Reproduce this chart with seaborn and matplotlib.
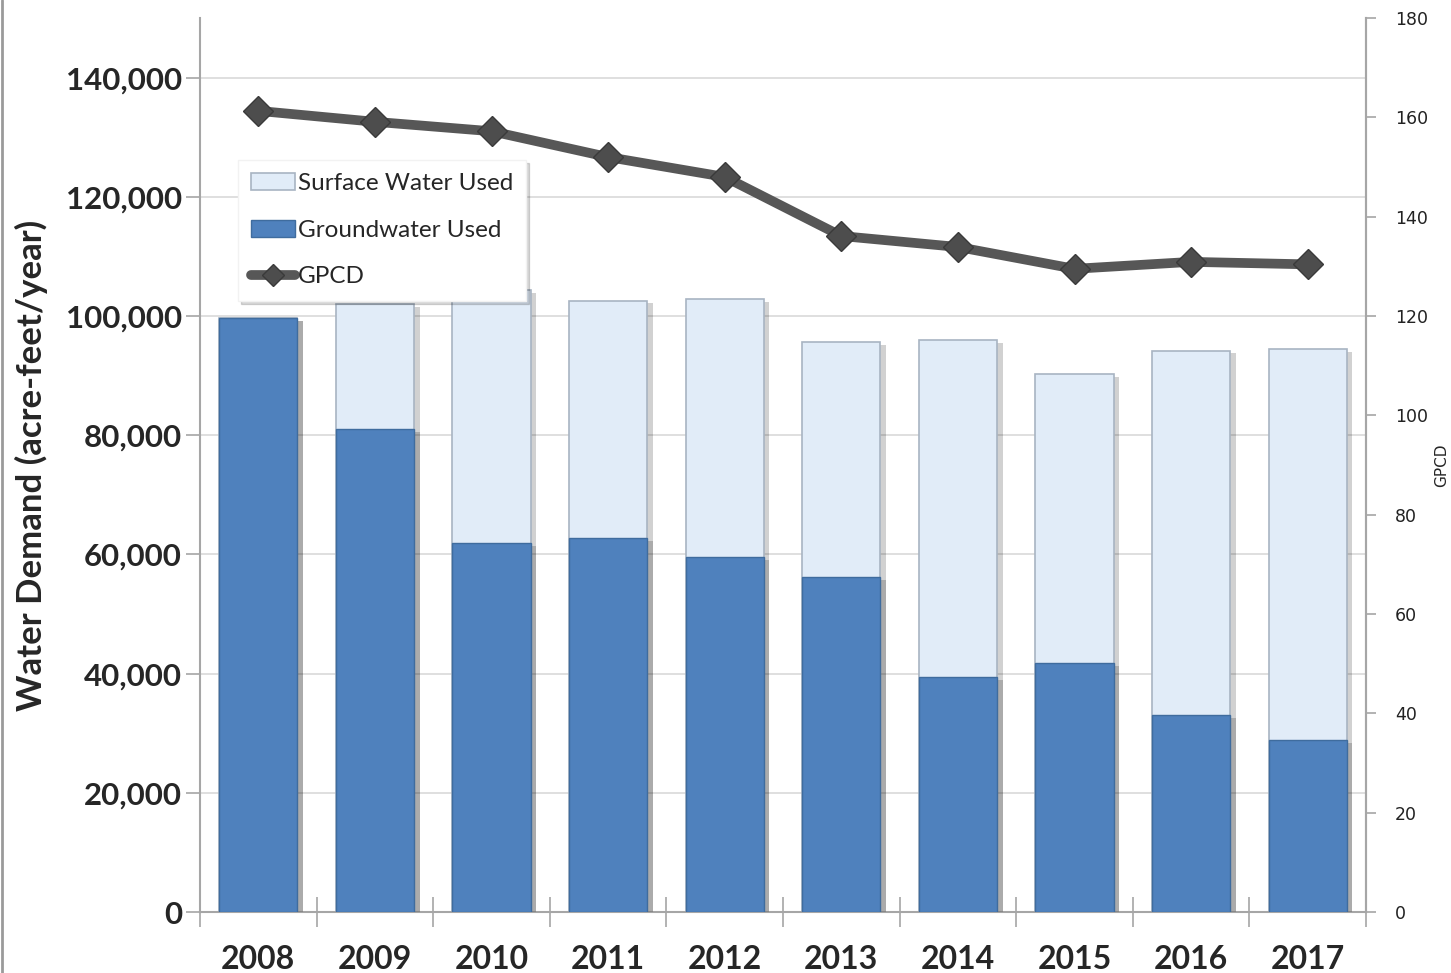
import numpy as np
import pandas as pd
import matplotlib
matplotlib.use("Agg")
import matplotlib.pyplot as plt
import seaborn as sns
from matplotlib.patches import Patch
from matplotlib.lines import Line2D
from matplotlib import patheffects as pe
from matplotlib.ticker import FuncFormatter, MultipleLocator, FixedLocator

years = ["2008", "2009", "2010", "2011", "2012", "2013", "2014", "2015", "2016", "2017"]
groundwater = [99600, 81000, 61900, 62700, 59600, 56200, 39400, 41800, 33100, 28900]
surface = [0, 21000, 42400, 39900, 43200, 39400, 56500, 48400, 61100, 65600]
gpcd = [161.3, 159.1, 157.2, 152.0, 148.0, 136.1, 133.9, 129.5, 130.9, 130.4]

total = [g + s for g, s in zip(groundwater, surface)]
df = pd.DataFrame({"year": years, "ground": groundwater, "total": total, "gpcd": gpcd})

sns.set_style("white")
plt.rcParams["font.family"] = ["Lato", "DejaVu Sans"]

c_ground = "#4F81BD"
c_surface = "#E1ECF8"
c_line = "#575757"

fig = plt.figure(figsize=(14.51, 9.73), dpi=100)
ax = fig.add_axes([200 / 1451, 1 - 912 / 973, (1366 - 200) / 1451, (912 - 18) / 973])

shadow = [pe.SimplePatchShadow(offset=(4, -2), shadow_rgbFace="#000000", alpha=0.18), pe.Normal()]

sns.barplot(data=df, x="year", y="total", color=c_surface, saturation=1, width=0.67,
            edgecolor="#A8B4C2", linewidth=1.2, ax=ax, zorder=2)
sns.barplot(data=df, x="year", y="ground", color=c_ground, saturation=1, width=0.67,
            edgecolor="#3F6C9E", linewidth=1.0, ax=ax, zorder=3)
for p in ax.patches:
    p.set_path_effects(shadow)

ax.set_xlim(-0.5, len(years) - 0.5)
ax.set_ylim(0, 150000)
ax.yaxis.set_major_locator(FixedLocator(np.arange(0, 140001, 20000)))
ax.yaxis.set_major_formatter(FuncFormatter(lambda v, p: f"{int(v):,}"))
ax.grid(axis="y", color="#D9D9D9", linewidth=1.2, zorder=0)
ax.set_axisbelow(True)
ax.set_xlabel("")
ax.set_ylabel("Water Demand (acre-feet/year)", fontsize=25, fontweight="bold", labelpad=13)

ax.spines["top"].set_visible(False)
for side in ["left", "bottom", "right"]:
    ax.spines[side].set_color("#A6A6A6")
    ax.spines[side].set_linewidth(1.5)

ax.tick_params(axis="y", which="major", length=10, width=1.2, color="#A6A6A6", direction="out",
               labelsize=22.5, pad=3, left=True)
for t in ax.get_yticklabels():
    t.set_fontweight("bold")
ax.set_xticks(range(len(years)))
ax.set_xticklabels(years, fontsize=23, fontweight="bold")
ax.tick_params(axis="x", which="major", length=0, pad=24)
ax.set_xticks(np.arange(-0.5, len(years), 1.0), minor=True)
ax.tick_params(axis="x", which="minor", length=21, width=1.2, color="#A6A6A6", direction="inout", bottom=True)

ax2 = ax.twinx()
pos = np.arange(len(years))
sns.lineplot(x=pos, y=df["gpcd"].values, ax=ax2, color=c_line, linewidth=7, marker="D",
             markersize=15, markerfacecolor="#4D4D4D", markeredgecolor="#3A3A3A",
             markeredgewidth=1.0, zorder=5)
ax2.set_ylim(0, 180)
ax2.yaxis.set_major_locator(MultipleLocator(20))
ax2.set_ylabel("GPCD", fontsize=11, labelpad=4, family=["DejaVu Sans"])
ax2.tick_params(axis="y", length=7, width=1.2, color="#A6A6A6", direction="out", labelsize=12.5,
                pad=14, right=True)
for t in ax2.get_yticklabels():
    t.set_family(["DejaVu Sans"])
    t.set_color("#222222")
for side in ["top", "left", "bottom"]:
    ax2.spines[side].set_visible(False)
ax2.spines["right"].set_color("#A6A6A6")
ax2.spines["right"].set_linewidth(1.5)
ax2.grid(False)

handles = [
    Patch(facecolor=c_surface, edgecolor="#A8B4C2", linewidth=1.2),
    Patch(facecolor=c_ground, edgecolor="#3F6C9E", linewidth=1.0),
    Line2D([0], [0], color=c_line, linewidth=7, marker="D", markersize=11,
           markerfacecolor="#4D4D4D", markeredgecolor="#3A3A3A"),
]
labels = ["Surface Water Used", "Groundwater Used", "GPCD"]
leg = ax2.legend(handles, labels, loc="upper left", bbox_to_anchor=(238 / 1451, 1 - 160 / 973),
                 bbox_transform=fig.transFigure, fontsize=17.5, frameon=True, fancybox=False,
                 shadow={"color": "#000000", "alpha": 0.15}, handlelength=1.8, handletextpad=0.1,
                 labelspacing=1.05, borderpad=0.55, borderaxespad=0)
leg.get_frame().set_edgecolor("#F2F2F2")
leg.get_frame().set_facecolor("white")
leg.set_zorder(10)

fig.add_artist(Line2D([0.0015, 0.0015], [0, 1], color="#9A9A9A", linewidth=2, transform=fig.transFigure))

fig.savefig("out.png", dpi=100)
